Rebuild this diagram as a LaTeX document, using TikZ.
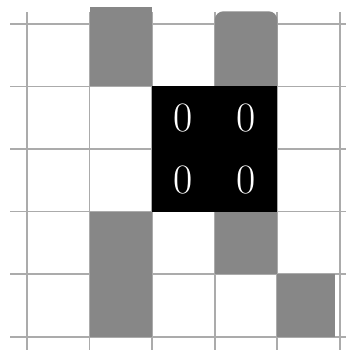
\documentclass[tikz,border=0pt]{standalone}
\usetikzlibrary{positioning}

\begin{document}
\begin{tikzpicture}[x=1cm,y=1cm]
\useasboundingbox (-0.43,-0.37) rectangle (5.10,5.38);
% grid
\foreach \y in {0,...,5}
  \draw[black!33,line width=0.8pt] (-0.27,\y)--(5.10,\y);
\foreach \x in {0,...,5}
  \draw[black!33,line width=0.8pt] (\x,-0.21)--(\x,5.19);
% gray cells
\fill[black!47] (1,4) rectangle (2,5.27);
\fill[black!47] (3,4) [rounded corners=4pt]--(3,5.2)--(4,5.2)[sharp corners]--(4,4)--cycle;
\fill[black!47] (1,0) rectangle (2,2);
\fill[black!47] (3,1) rectangle (4,2);
\fill[black!47] (4,0) rectangle (4.92,1);
% black block
\fill[black] (2,2) rectangle (4,4);
\node[white,font=\fontsize{19}{19}\selectfont] (z11) at (2.5,3.5) {0};
\node[white,font=\fontsize{19}{19}\selectfont] (z12) at (3.5,3.5) {0};
\node[white,font=\fontsize{19}{19}\selectfont] (z21) at (2.5,2.5) {0};
\node[white,font=\fontsize{19}{19}\selectfont] (z22) at (3.5,2.5) {0};
\end{tikzpicture}
\end{document}
